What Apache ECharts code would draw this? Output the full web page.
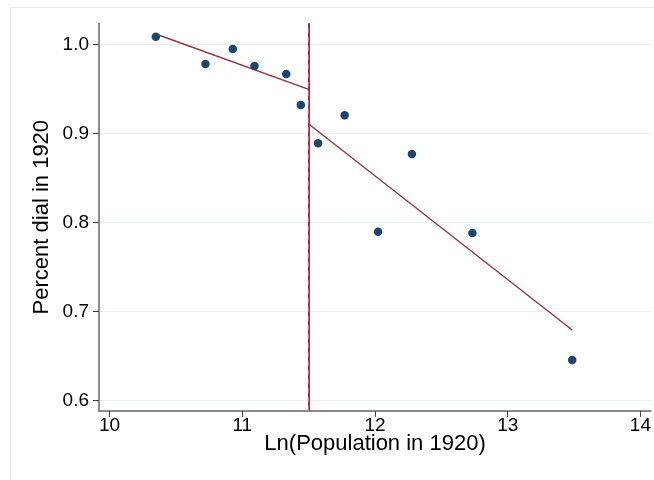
<!DOCTYPE html>
<html>
<head>
<meta charset="utf-8">
<script src="https://cdn.jsdelivr.net/npm/echarts@6/dist/echarts.min.js"></script>
<style>
  html, body { margin: 0; padding: 0; background: #fff; }
  #chart { width: 654px; height: 480px; }
</style>
</head>
<body>
<div id="chart"></div>
<script>
// values
const popLn = [10.348, 10.722, 10.929, 11.092, 11.331, 11.441, 11.571, 11.771, 12.023, 12.278, 12.734, 13.486]
const dialPct = [1.0085, 0.978, 0.9947, 0.9756, 0.9666, 0.9318, 0.8888, 0.9202, 0.7894, 0.8767, 0.788, 0.6454]
const fitLeftX = [10.348, 11.5]
const fitLeftY = [1.0116, 0.9494]
const fitRightX = [11.5, 13.486]
const fitRightY = [0.9104, 0.679]
const cutoff = 11.5
const xTicks = [10, 11, 12, 13, 14]
const yTicks = [0.6, 0.7, 0.8, 0.9, 1.0]

const font = "'Liberation Sans', Arial, sans-serif"
const chart = echarts.init(document.getElementById('chart'))

const pairs = (xs, ys) => xs.map((x, i) => [x, ys[i]])

chart.setOption({
  animation: false,
  textStyle: { fontFamily: font },
  graphic: [{
    type: 'rect',
    shape: { x: 10.5, y: 7.5, width: 700, height: 500 },
    style: { fill: 'none', stroke: '#e6eef1', lineWidth: 1 },
    silent: true
  }],
  grid: { left: 99, right: 1.3, top: 23.3, bottom: 69 },
  xAxis: {
    type: 'value',
    min: 9.92,
    max: 14.08,
    name: 'Ln(Population in 1920)',
    nameLocation: 'middle',
    nameGap: 22,
    nameMoveOverlap: false,
    nameTextStyle: { fontSize: 22, color: '#000', fontFamily: font },
    axisLine: { show: true, onZero: false, lineStyle: { color: '#666', width: 1.5 } },
    axisTick: { show: true, length: 6, customValues: xTicks, lineStyle: { color: '#444' } },
    axisLabel: { customValues: xTicks, fontSize: 19, color: '#000', margin: 5, fontFamily: font },
    splitLine: { show: false }
  },
  yAxis: {
    type: 'value',
    min: 0.588,
    max: 1.0236,
    name: 'Percent dial in 1920',
    nameLocation: 'middle',
    nameGap: 46,
    nameMoveOverlap: false,
    nameRotate: 90,
    nameTextStyle: { fontSize: 22, color: '#000', fontFamily: font },
    axisLine: { show: true, onZero: false, lineStyle: { color: '#666', width: 1.5 } },
    axisTick: { show: true, length: 6, customValues: yTicks, lineStyle: { color: '#444' } },
    axisLabel: {
      customValues: yTicks,
      fontSize: 19,
      color: '#000',
      margin: 10,
      fontFamily: font,
      formatter: v => v.toFixed(1)
    },
    splitLine: { show: true, lineStyle: { color: '#e8f0f2', width: 1 } }
  },
  series: [
    {
      type: 'line',
      data: pairs(fitLeftX, fitLeftY),
      symbol: 'none',
      lineStyle: { color: '#94353c', width: 1.4 },
      z: 2
    },
    {
      type: 'line',
      data: pairs(fitRightX, fitRightY),
      symbol: 'none',
      lineStyle: { color: '#94353c', width: 1.4 },
      z: 2
    },
    {
      type: 'scatter',
      data: pairs(popLn, dialPct),
      symbolSize: 8.5,
      itemStyle: { color: '#1a476f', opacity: 1 },
      z: 3,
      markLine: {
        silent: true,
        symbol: 'none',
        label: { show: false },
        data: [
          { xAxis: cutoff, lineStyle: { color: '#b5234b', width: 2, type: 'solid' } },
          { xAxis: cutoff, lineStyle: { color: '#d9607f', width: 1, type: [5, 4] } }
        ]
      }
    }
  ]
})
</script>
</body>
</html>
